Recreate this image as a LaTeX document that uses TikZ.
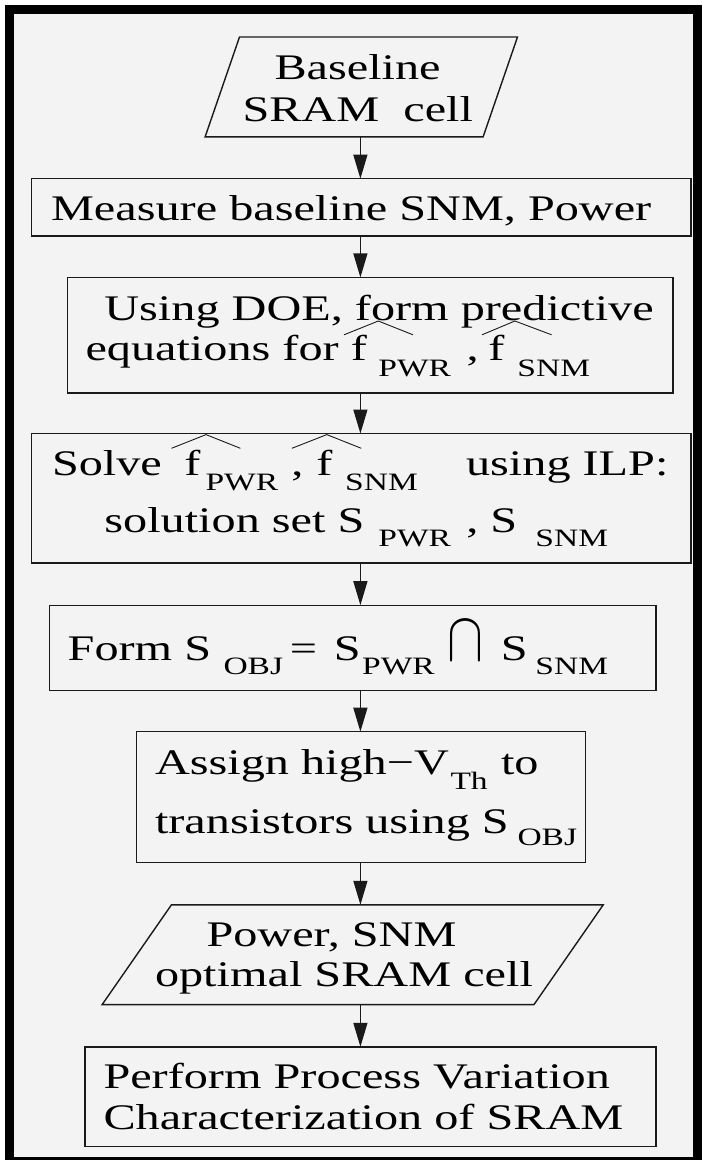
\documentclass[tikz,border=0pt]{standalone}
\usepackage{fontspec}
\setmainfont{Liberation Serif}
\usetikzlibrary{arrows.meta}
\definecolor{bgc}{HTML}{F3F3F3}
\definecolor{ink}{HTML}{1A1A1A}
\newcommand\seg[2]{\makebox[0pt][l]{\hspace*{#1pt}\scalebox{1.34}[1]{#2}}}
\newcommand\segr[2]{\makebox[0pt][l]{\hspace*{#1pt}#2}}
\newcommand\dn[2]{\raisebox{-#1pt}{\fontsize{25}{25}\selectfont #2}}
\begin{document}
\begin{tikzpicture}[x=1pt,y=-1pt,
  boxnode/.style={draw=ink, line width=1.4pt, rectangle, inner sep=0pt, outer sep=0pt},
  hidnode/.style={rectangle, inner sep=0pt, outer sep=0pt},
  para/.style={draw=ink, line width=1.4pt, line join=miter},
  txt/.style={anchor=base west, inner sep=0pt, outer sep=0pt, font=\fontsize{36}{40}\selectfont},
  arr/.style={draw=ink, line width=1.3pt, -{Triangle[length=24pt,width=14pt]}},
  hat/.style={draw=ink, line width=0.9pt}]
\useasboundingbox (0,0) rectangle (702,1160);
\fill[white] (0,0) rectangle (702,1160);
\fill[bgc] (9,9) rectangle (697.5,1160);
\draw[black, line width=9pt] (9,9.2) rectangle (697.5,1161.5);

% nodes
\node[hidnode, minimum width=278pt, minimum height=99.9pt] (p1) at (361.3,86.95) {};
\draw[para] ([xshift=17.2pt]p1.north west) -- ([xshift=17.2pt]p1.north east)
  -- ([xshift=-17.2pt]p1.south east) -- ([xshift=-17.2pt]p1.south west) -- cycle;
\node[boxnode, minimum width=659.5pt, minimum height=57.3pt] (b2) at (361.05,207.35) {};
\node[boxnode, minimum width=605.7pt, minimum height=115.5pt] (b3) at (370.05,335.15) {};
\node[boxnode, minimum width=659.5pt, minimum height=129.5pt] (b4) at (361.05,498.25) {};
\node[boxnode, minimum width=606.7pt, minimum height=85pt] (b5) at (352.55,647.7) {};
\node[boxnode, minimum width=449.1pt, minimum height=130.5pt] (b6) at (361.05,796.95) {};
\node[hidnode, minimum width=431.8pt, minimum height=99.8pt] (p2) at (352.7,954.7) {};
\draw[para] ([xshift=34.65pt]p2.north west) -- ([xshift=34.65pt]p2.north east)
  -- ([xshift=-34.65pt]p2.south east) -- ([xshift=-34.65pt]p2.south west) -- cycle;
\node[boxnode, minimum width=570.8pt, minimum height=99.9pt] (b8) at (370.5,1096.75) {};

% texts
\node[txt] (t1a) at (274,79.5) {\seg{0}{Baseline}};
\node[txt] (t1b) at (242,121) {\seg{0}{SRAM\ \ cell}};
\node[txt] (t2) at (50.6,220.8) {\seg{0}{Measure baseline SNM, Power}};
\node[txt] (t3a) at (103.9,320) {\seg{0}{Using DOE, form predictive}};
\node[txt] (t3b) at (85,360.7) {\seg{0}{equations for f}\seg{293}{\dn{15.9}{PWR}}\seg{381}{,}\seg{403}{f}\seg{432}{\dn{15.9}{SNM}}};
\node[txt] (t4a) at (51.5,475.3) {\seg{0}{Solve}\seg{132.5}{f}\seg{153.5}{\dn{14.7}{PWR}}\seg{239.5}{,}\seg{264.5}{f}\seg{293.2}{\dn{14.7}{SNM}}\seg{414.1}{using ILP:}};
\node[txt] (t4b) at (103.9,532.7) {\seg{0}{solution set S}\seg{274.1}{\dn{14}{PWR}}\seg{362.1}{,}\seg{386.1}{S}\seg{431.1}{\dn{14}{SNM}}};
\node[txt] (t5) at (67.2,660.6) {\seg{0}{Form S}\seg{155.8}{\dn{13.7}{OBJ}}\seg{222.3}{=}\seg{266.3}{S}\seg{294.5}{\dn{13.7}{PWR}}\segr{379.6}{\resizebox{36pt}{39pt}{$\cap$}}\seg{433.3}{S}\seg{467.8}{\dn{13.7}{SNM}}};
\node[txt] (t6a) at (154.5,774.2) {\seg{0}{Assign high−V}\seg{295.5}{\dn{14.8}{Th}}\seg{346}{to}};
\node[txt] (t6b) at (154.5,833.4) {\seg{0}{transistors using S}\seg{362.5}{\dn{12.2}{OBJ}}};
\node[txt] (t7a) at (206,946.2) {\seg{0}{Power, SNM}};
\node[txt] (t7b) at (154.5,986.9) {\seg{0}{optimal SRAM cell}};
\node[txt] (t8a) at (103,1088.6) {\seg{0}{Perform Process Variation}};
\node[txt] (t8b) at (103,1129.3) {\seg{0}{Characterization of SRAM}};

% hats
\draw[hat] (344,334.8) -- (378.3,321) -- (413,334.8);
\draw[hat] (482,334.8) -- (514.9,321) -- (551.6,334.8);
\draw[hat] (171.5,448.3) -- (206,434.6) -- (240.4,448.3);
\draw[hat] (291.9,448.3) -- (326.8,434.6) -- (361.3,448.3);

% connectors
\coordinate (ax) at (360.4,0);
\draw[arr] (p1.south -| ax) -- (b2.north -| ax);
\draw[arr] (b2.south -| ax) -- (b3.north -| ax);
\draw[arr] (b3.south -| ax) -- (b4.north -| ax);
\draw[arr] (b4.south -| ax) -- (b5.north -| ax);
\draw[arr] (b5.south -| ax) -- (b6.north -| ax);
\draw[arr] (b6.south -| ax) -- (p2.north -| ax);
\draw[arr] (p2.south -| ax) -- (b8.north -| ax);
\end{tikzpicture}
\end{document}
